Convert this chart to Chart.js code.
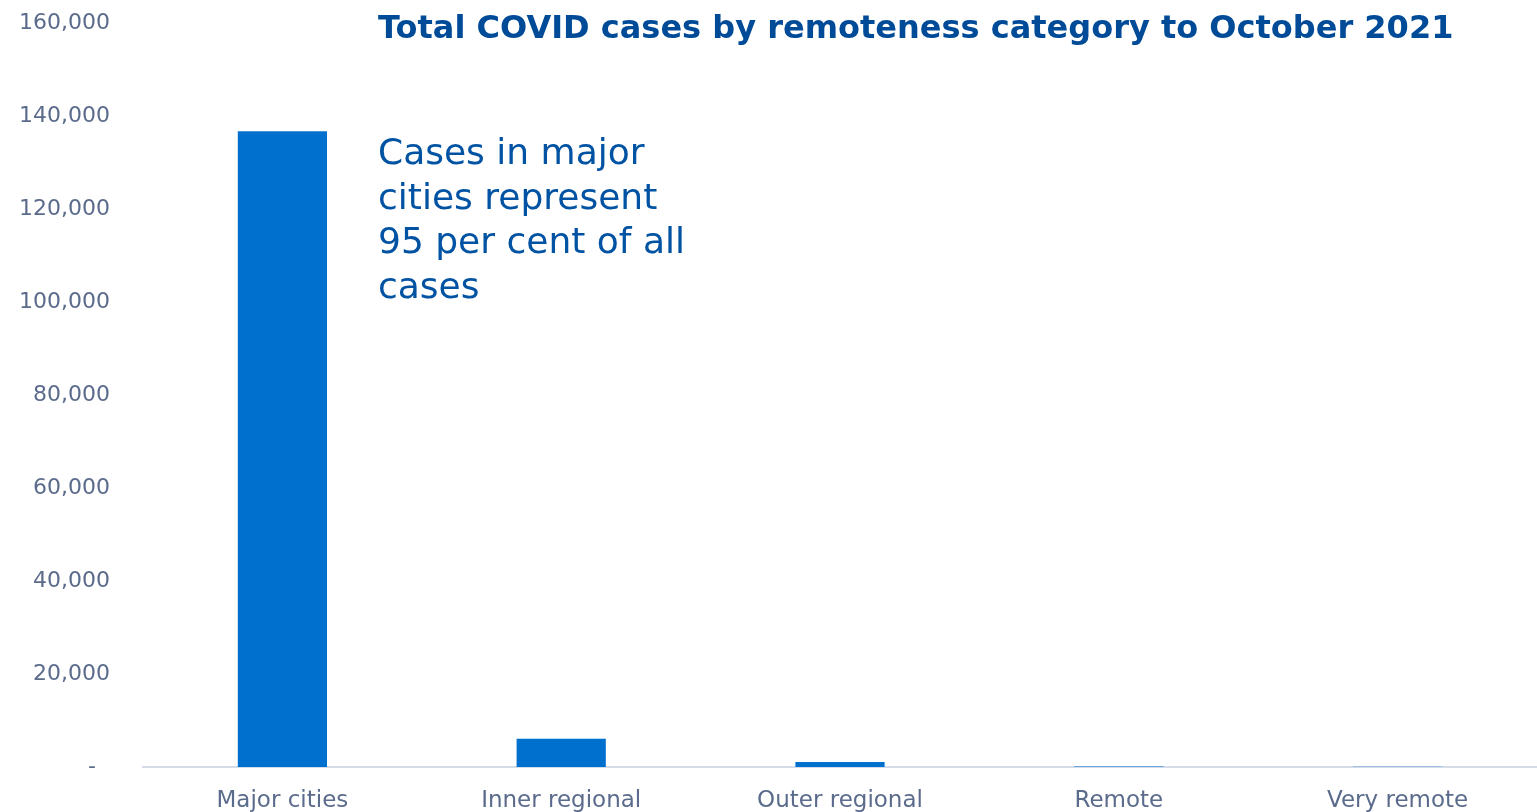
<!DOCTYPE html>
<html>
<head>
<meta charset="utf-8">
<script src="https://cdn.jsdelivr.net/npm/chart.js@4/dist/chart.umd.min.js"></script>
<style>
  html, body { margin: 0; padding: 0; background: #fff; }
  #wrap { width: 1537px; height: 812px; }
</style>
</head>
<body>
<div id="wrap"><canvas id="chart"></canvas></div>
<script>
// data
const categories = ['Major cities', 'Inner regional', 'Outer regional', 'Remote', 'Very remote'];
const cases = [136700, 6050, 1050, 120, 40];
const yTicksMax = 160000;
const yTickStep = 20000;
const titleText = 'Total COVID cases by remoteness category to October 2021';
const noteLines = ['Cases in major', 'cities represent', '95 per cent of all', 'cases'];

const FONT = '"DejaVu Sans", sans-serif';
const AXIS_GREY = '#5b6b8c';

// title + note sit inside the plot area, so draw them by hand
const textPlugin = {
  id: 'textPlugin',
  afterDraw(chart) {
    const ctx = chart.ctx;
    ctx.save();
    ctx.textAlign = 'left';
    ctx.textBaseline = 'alphabetic';
    ctx.fillStyle = '#004b98';
    ctx.font = 'bold 32px ' + FONT;
    ctx.fillText(titleText, 378, 38);

    ctx.fillStyle = '#0052a2';
    ctx.font = '36px ' + FONT;
    noteLines.forEach(function (line, i) {
      ctx.fillText(line, 378, 164 + i * 44.5);
    });
    ctx.restore();
  }
};

new Chart(document.getElementById('chart'), {
  type: 'bar',
  data: {
    labels: categories,
    datasets: [{
      label: 'Cases',
      data: cases,
      backgroundColor: '#0070cf',
      borderWidth: 0,
      categoryPercentage: 1,
      barPercentage: 0.32
    }]
  },
  options: {
    responsive: true,
    maintainAspectRatio: false,
    animation: false,
    layout: { padding: { top: 23, right: 0, bottom: 0, left: 0 } },
    plugins: {
      legend: { display: false },
      tooltip: { enabled: false }
    },
    scales: {
      x: {
        grid: { display: false, drawTicks: false },
        border: { display: true, color: '#d3dce8', width: 2 },
        afterFit: function (scale) { scale.height = 45; },
        ticks: { color: AXIS_GREY, font: { family: FONT, size: 23 }, padding: 20 }
      },
      y: {
        min: 0,
        max: yTicksMax,
        grid: { display: false, drawTicks: false },
        border: { display: false },
        afterFit: function (scale) {
          scale.width = 143;
          scale.paddingTop = 0;
          scale.paddingBottom = 0;
        },
        ticks: {
          stepSize: yTickStep,
          color: AXIS_GREY,
          padding: 33,
          font: { family: FONT, size: 22 },
          callback: function (v) { return v === 0 ? '-  ' : v.toLocaleString('en-US'); }
        }
      }
    }
  },
  plugins: [textPlugin]
});
</script>
</body>
</html>
